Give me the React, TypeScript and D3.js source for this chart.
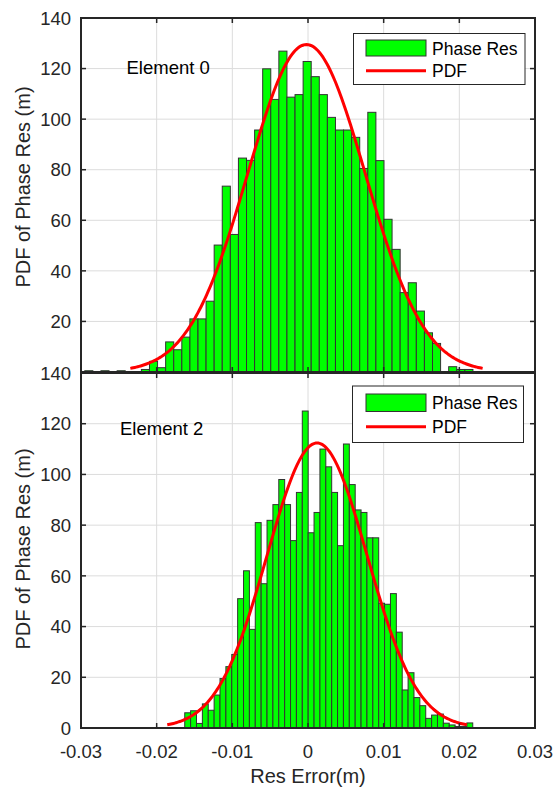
import React from "react";
import * as d3 from "d3";

// ---- data ----
const xTicks = [-0.03, -0.02, -0.01, 0, 0.01, 0.02, 0.03];
const xTickLabels = ["-0.03", "-0.02", "-0.01", "0", "0.01", "0.02", "0.03"];
const yTicks = [0, 20, 40, 60, 80, 100, 120, 140];

const seriesNames = ["Phase Res", "PDF"];

// Element 0 histogram (pdf-normalised heights)
const topBinStart = -0.0295;
const topBinWidth = 0.0010687;
const topValues = [
  0.5, 0, 0.5, 0, 0.5, 0, 0, 1, 4.2, 1.7, 11.9, 8.8, 13.8, 21, 21, 28, 50.2, 73.5,
  54.4, 84.6, 83.7, 95.7, 119.9, 107.8, 126.9, 108.7, 109.7, 122.8, 116.8, 109.7,
  100.7, 95.7, 95.7, 92.8, 80.5, 102.7, 83.6, 60.4, 48.5, 31.4, 35.3, 24.1, 15.5,
  11.3, 0, 2.1, 1, 1,
];
const topPdf = { mean: -0.0002, sigma: 0.00776, peak: 129.5 };

// Element 2 histogram
const bottomBinStart = -0.01629;
const bottomBinWidth = 0.0007768;
const bottomValues = [
  6.0, 6.8, 1.8, 9.5, 7.0, 13, 19.5, 24.2, 29, 51, 62, 38.9, 81, 56.9, 81.9, 88.1,
  98, 88.1, 73.9, 92.9, 125, 77, 85, 110, 103, 92.9, 71.9, 112, 96, 86, 85, 75, 75,
  49.2, 48.8, 53, 37.8, 15, 21.8, 12, 8.8, 3.8, 5.1, 5.5, 1.9, 1.2, 0.6, 0.6, 2,
];
const bottomPdf = { mean: 0.0012, sigma: 0.0066, peak: 112.4 };

// ---- layout ----
const W = 556;
const H = 787;
const LEFT = 81;
const RIGHT = 535;
const FONT = "'Liberation Sans', Arial, Helvetica, sans-serif";
const AXIS = "#262626";

type Panel = {
  top: number;
  bottom: number;
  start: number;
  width: number;
  values: number[];
  pdf: { mean: number; sigma: number; peak: number };
  label: string;
  labelX: number;
  labelY: number;
  legend: { x0: number; x1: number; y0: number; y1: number; patch: [number, number]; line: number; t1: number; t2: number };
  yLabelY: number;
  showX: boolean;
  hideZero: boolean;
};

const panels: Panel[] = [
  {
    top: 18,
    bottom: 372,
    start: topBinStart,
    width: topBinWidth,
    values: topValues,
    pdf: topPdf,
    label: "Element 0",
    labelX: 126.5,
    labelY: 74,
    legend: { x0: 353.5, x1: 525, y0: 33.5, y1: 84.5, patch: [40, 56], line: 70.7, t1: 55, t2: 77 },
    yLabelY: 187,
    showX: false,
    hideZero: true,
  },
  {
    top: 373,
    bottom: 728,
    start: bottomBinStart,
    width: bottomBinWidth,
    values: bottomValues,
    pdf: bottomPdf,
    label: "Element 2",
    labelX: 120,
    labelY: 435,
    legend: { x0: 352.5, x1: 523.5, y0: 386, y1: 442.5, patch: [394, 411.5], line: 426.7, t1: 409, t2: 433 },
    yLabelY: 549,
    showX: true,
    hideZero: false,
  },
];

const x = d3.scaleLinear().domain([-0.03, 0.03]).range([LEFT, RIGHT]);

function PanelView({ p }: { p: Panel }) {
  const y = d3.scaleLinear().domain([0, 140]).range([p.bottom, p.top]);
  const n = 240;
  const lo = p.pdf.mean - 3 * p.pdf.sigma;
  const hi = p.pdf.mean + 3 * p.pdf.sigma;
  const pts: [number, number][] = d3.range(n + 1).map((i) => {
    const xv = lo + ((hi - lo) * i) / n;
    const z = (xv - p.pdf.mean) / p.pdf.sigma;
    return [xv, p.pdf.peak * Math.exp(-0.5 * z * z)];
  });
  const line = d3
    .line<[number, number]>()
    .x((d) => x(d[0]))
    .y((d) => y(d[1]));
  const bw = x(p.width) - x(0);
  const tl = 5;
  return (
    <g>
      {/* grid */}
      {xTicks.slice(1, -1).map((t) => (
        <line key={"gx" + t} x1={x(t)} x2={x(t)} y1={p.top} y2={p.bottom} stroke="#dcdcdc" strokeWidth={1} />
      ))}
      {yTicks.slice(1, -1).map((t) => (
        <line key={"gy" + t} x1={LEFT} x2={RIGHT} y1={y(t)} y2={y(t)} stroke="#dcdcdc" strokeWidth={1} />
      ))}
      {/* bars */}
      {p.values.map((v, i) =>
        v > 0 ? (
          <rect
            key={"b" + i}
            x={x(p.start + i * p.width)}
            y={y(v)}
            width={bw}
            height={y(0) - y(v)}
            fill="#00ff00"
            stroke="#333333"
            strokeWidth={1}
          />
        ) : null
      )}
      {/* pdf curve */}
      <path d={line(pts) || ""} fill="none" stroke="#ff0000" strokeWidth={3} />
      {/* box */}
      <rect x={LEFT} y={p.top} width={RIGHT - LEFT} height={p.bottom - p.top} fill="none" stroke={AXIS} strokeWidth={2} />
      {/* ticks */}
      {xTicks.map((t) => (
        <g key={"tx" + t}>
          <line x1={x(t)} x2={x(t)} y1={p.bottom} y2={p.bottom - tl} stroke={AXIS} strokeWidth={1.5} />
          <line x1={x(t)} x2={x(t)} y1={p.top} y2={p.top + tl} stroke={AXIS} strokeWidth={1.5} />
        </g>
      ))}
      {yTicks.map((t) => (
        <g key={"ty" + t}>
          <line x1={LEFT} x2={LEFT + tl} y1={y(t)} y2={y(t)} stroke={AXIS} strokeWidth={1.5} />
          <line x1={RIGHT} x2={RIGHT - tl} y1={y(t)} y2={y(t)} stroke={AXIS} strokeWidth={1.5} />
          {!(p.hideZero && t === 0) && (
            <text x={71} y={y(t)} dy="0.36em" textAnchor="end" fontSize={18.5} fontFamily={FONT} fill={AXIS}>
              {t}
            </text>
          )}
        </g>
      ))}
      {p.showX &&
        xTicks.map((t, i) => (
          <text key={"lx" + t} x={x(t)} y={758} textAnchor="middle" fontSize={18.5} fontFamily={FONT} fill={AXIS}>
            {xTickLabels[i]}
          </text>
        ))}
      {/* y label */}
      <text
        transform={`translate(30,${p.yLabelY}) rotate(-90)`}
        textAnchor="middle"
        fontSize={20}
        fontFamily={FONT}
        fill={AXIS}
      >
        PDF of Phase Res (m)
      </text>
      {/* element label */}
      <text x={p.labelX} y={p.labelY} fontSize={18.5} fontFamily={FONT} fill="#000">
        {p.label}
      </text>
      {/* legend */}
      <rect
        x={p.legend.x0}
        y={p.legend.y0}
        width={p.legend.x1 - p.legend.x0}
        height={p.legend.y1 - p.legend.y0}
        fill="#fff"
        stroke={AXIS}
        strokeWidth={1}
      />
      <rect
        x={366}
        y={p.legend.patch[0]}
        width={60}
        height={p.legend.patch[1] - p.legend.patch[0]}
        fill="#00ff00"
        stroke="#333333"
        strokeWidth={1}
      />
      <line x1={366} x2={426} y1={p.legend.line} y2={p.legend.line} stroke="#ff0000" strokeWidth={3} />
      <text x={432} y={p.legend.t1} fontSize={17.5} fontFamily={FONT} fill="#000">
        {seriesNames[0]}
      </text>
      <text x={432} y={p.legend.t2} fontSize={17.5} fontFamily={FONT} fill="#000">
        {seriesNames[1]}
      </text>
    </g>
  );
}

export default function App() {
  return (
    <svg width={W} height={H} style={{ position: "absolute", left: 0, top: 0, background: "#fff" }}>
      <rect x={0} y={0} width={W} height={H} fill="#fff" />
      {panels.map((p, i) => (
        <PanelView key={i} p={p} />
      ))}
      <text x={308} y={783} textAnchor="middle" fontSize={20} fontFamily={FONT} fill={AXIS}>
        Res Error(m)
      </text>
    </svg>
  );
}
